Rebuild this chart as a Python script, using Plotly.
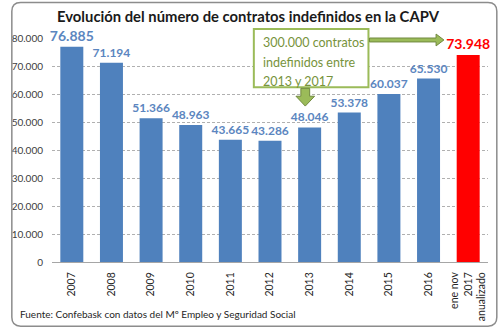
import plotly.graph_objects as go

# Datos: contratos indefinidos en la CAPV
periodos = ["2007", "2008", "2009", "2010", "2011", "2012", "2013", "2014",
            "2015", "2016", "ene nov<br>2017<br>anualizado"]
contratos = [76885, 71194, 51366, 48963, 43665, 43286, 48046, 53378,
             60037, 65530, 73948]
y_ticks = [0, 10000, 20000, 30000, 40000, 50000, 60000, 70000, 80000]

titulo = "Evolución del número de contratos indefinidos en la CAPV"
nota_lineas = ["300.000 contratos", "indefinidos entre", "2013 y 2017"]
fuente = "Fuente: Confebask con datos del Mº Empleo y Seguridad Social"

AZUL = "#4F81BD"
ROJO = "#FF0000"
VERDE = "#9BBB59"
VERDE_OSC = "#71893F"
VERDE_TXT = "#77933C"
FONT = "Lato"

W, H = 500, 333
ML, MR, MT, MB = 43, 12, 38, 68
PW, PH = W - ML - MR, H - MT - MB


def px(x):
    return (x - ML) / PW


def py(y):
    return (H - MB - y) / PH


def path(points, close=True):
    s = "M " + " L ".join(f"{px(a):.5f},{py(b):.5f}" for a, b in points)
    return s + (" Z" if close else "")


n = len(periodos)
bar_colors = [AZUL] * (n - 1) + [ROJO]
label_colors = ["#5B86C0"] * (n - 1) + [ROJO]
text_sizes = [14] + [12] * (n - 2) + [14]
templates = ["<b>%{y:,.0f}</b>"] * n

fig = go.Figure(go.Bar(
    x=periodos,
    y=contratos,
    marker=dict(color=bar_colors, line=dict(width=0)),
    texttemplate=templates,
    textposition="outside",
    textfont=dict(size=text_sizes, color=label_colors, family=FONT),
    constraintext="none",
    cliponaxis=False,
    hoverinfo="skip",
))

shapes = []

# Borde redondeado del gráfico
x0, y0, x1, y1, r = 2, 2, 497, 330, 9
shapes.append(dict(
    type="path", xref="paper", yref="paper",
    path=(f"M {px(x0 + r):.5f},{py(y0):.5f} L {px(x1 - r):.5f},{py(y0):.5f} "
          f"Q {px(x1):.5f},{py(y0):.5f} {px(x1):.5f},{py(y0 + r):.5f} "
          f"L {px(x1):.5f},{py(y1 - r):.5f} "
          f"Q {px(x1):.5f},{py(y1):.5f} {px(x1 - r):.5f},{py(y1):.5f} "
          f"L {px(x0 + r):.5f},{py(y1):.5f} "
          f"Q {px(x0):.5f},{py(y1):.5f} {px(x0):.5f},{py(y1 - r):.5f} "
          f"L {px(x0):.5f},{py(y0 + r):.5f} "
          f"Q {px(x0):.5f},{py(y0):.5f} {px(x0 + r):.5f},{py(y0):.5f} Z"),
    line=dict(color="#8C8C8C", width=1.5),
    layer="above",
))

# Caja de texto verde
shapes.append(dict(
    type="rect", xref="paper", yref="paper",
    x0=px(249), x1=px(366), y0=py(29), y1=py(88),
    line=dict(color=VERDE, width=2), fillcolor="white", layer="above",
))

# Flecha hacia la derecha
shapes.append(dict(
    type="path", xref="paper", yref="paper",
    path=path([(367, 38), (435, 38), (435, 34), (443, 40), (435, 46),
               (435, 42), (367, 42)]),
    fillcolor=VERDE, line=dict(color=VERDE_OSC, width=1), layer="above",
))

# Flecha hacia abajo
shapes.append(dict(
    type="path", xref="paper", yref="paper",
    path=path([(297, 89), (306, 89), (306, 97), (311, 97), (301.5, 107),
               (292, 97), (297, 97)]),
    fillcolor=VERDE, line=dict(color=VERDE_OSC, width=1), layer="above",
))

annotations = [
    dict(text=linea, xref="paper", yref="paper",
         x=px(256), y=py(43 + 19.5 * i), xanchor="left", yanchor="middle",
         align="left", showarrow=False,
         font=dict(family=FONT, size=12.5, color=VERDE_TXT))
    for i, linea in enumerate(nota_lineas)
]
annotations.append(
    dict(text=fuente, xref="paper", yref="paper",
         x=px(8), y=py(318), xanchor="left", yanchor="middle",
         showarrow=False,
         font=dict(family=FONT, size=10, color="#262626"))
)

fig.update_layout(
    width=W, height=H,
    margin=dict(l=ML, r=MR, t=MT, b=MB),
    paper_bgcolor="white", plot_bgcolor="white",
    separators=",.",
    bargap=0.42,
    showlegend=False,
    title=dict(text=f"<b>{titulo}</b>", x=0.496, xanchor="center",
               y=1 - 17 / H, yanchor="middle", xref="container", yref="container",
               font=dict(family=FONT, size=14.8, color="#1A1A1A")),
    shapes=shapes,
    annotations=annotations,
    xaxis=dict(
        type="category", tickangle=-90,
        showline=True, linecolor="#A6A6A6", linewidth=1,
        showgrid=False, ticks="",
        tickfont=dict(family=FONT, size=10.5, color="#262626"),
        ticklabelstandoff=5,
    ),
    yaxis=dict(
        range=[0, 80000], tickvals=y_ticks, tickformat=",.0f",
        showgrid=True, gridcolor="#B0B0B0", griddash="3px,2px", gridwidth=1,
        zeroline=False, showline=False, ticks="",
        tickfont=dict(family=FONT, size=10, color="#404040"),
        ticklabelstandoff=8,
    ),
)

fig.write_html("out.html")
